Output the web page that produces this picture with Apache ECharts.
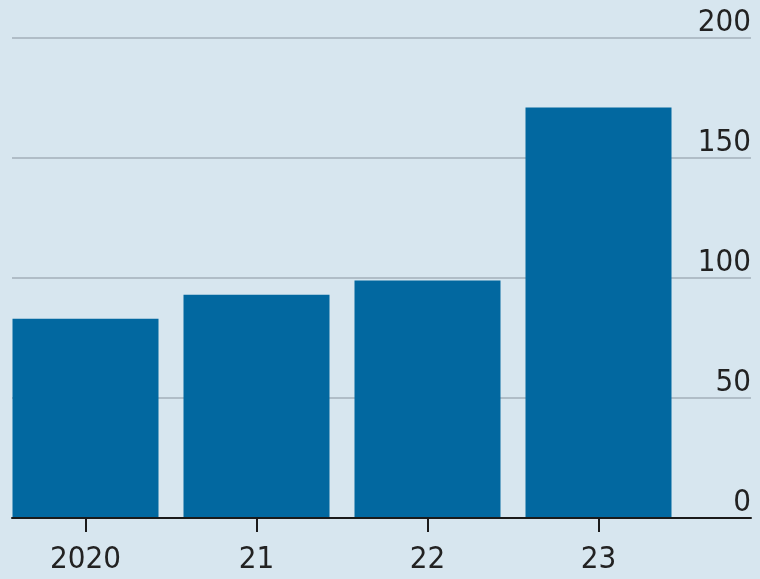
<!DOCTYPE html>
<html>
<head>
<meta charset="utf-8">
<script src="https://cdn.jsdelivr.net/npm/echarts@6/dist/echarts.min.js"></script>
<style>
  html, body { margin: 0; padding: 0; background: #d7e6ef; }
  #main { width: 760px; height: 579px; }
</style>
</head>
<body>
<div id="main"></div>
<script>
// 数据
var years = ['2020', '21', '22', '23'];
var values = [83, 93, 99, 171];
var yTicks = [0, 50, 100, 150, 200];

var font = '"Liberation Sans Narrow", "DejaVu Sans Condensed", sans-serif';
var chart = echarts.init(document.getElementById('main'));

chart.setOption({
    backgroundColor: '#d7e6ef',
    animation: false,
    grid: [
        // 柱子
        { left: 0, width: 684, top: 38, bottom: 61 },
        // 网格线 + 右侧刻度
        { left: 12, right: 9, top: 38, bottom: 61 }
    ],
    xAxis: [
        {
            gridIndex: 0,
            type: 'category',
            data: years,
            axisLine: { show: false },
            axisTick: {
                show: true,
                alignWithLabel: true,
                length: 14,
                lineStyle: { color: '#1a1a1a', width: 2 }
            },
            axisLabel: {
                margin: 26,
                fontFamily: font,
                fontSize: 31,
                color: '#222'
            }
        },
        {
            gridIndex: 1,
            type: 'value',
            min: 0,
            max: 1,
            axisLine: { show: true, lineStyle: { color: '#1a1a1a', width: 2 } },
            axisTick: { show: false },
            axisLabel: { show: false },
            splitLine: { show: false },
            z: 5
        }
    ],
    yAxis: [
        {
            gridIndex: 0,
            type: 'value',
            min: yTicks[0],
            max: yTicks[yTicks.length - 1],
            interval: 50,
            show: false
        },
        {
            gridIndex: 1,
            type: 'value',
            position: 'right',
            min: yTicks[0],
            max: yTicks[yTicks.length - 1],
            interval: 50,
            axisLine: { show: false },
            axisTick: { show: false },
            axisLabel: {
                inside: true,
                margin: 0,
                align: 'right',
                verticalAlign: 'bottom',
                padding: [0, 0, 0, 0],
                fontFamily: font,
                fontSize: 31,
                color: '#222'
            },
            splitLine: { lineStyle: { color: '#b0bdc7', width: 2 } }
        }
    ],
    series: [{
        type: 'bar',
        xAxisIndex: 0,
        yAxisIndex: 0,
        data: values,
        barWidth: 146,
        itemStyle: { color: '#0268a0' }
    }]
});
</script>
</body>
</html>
